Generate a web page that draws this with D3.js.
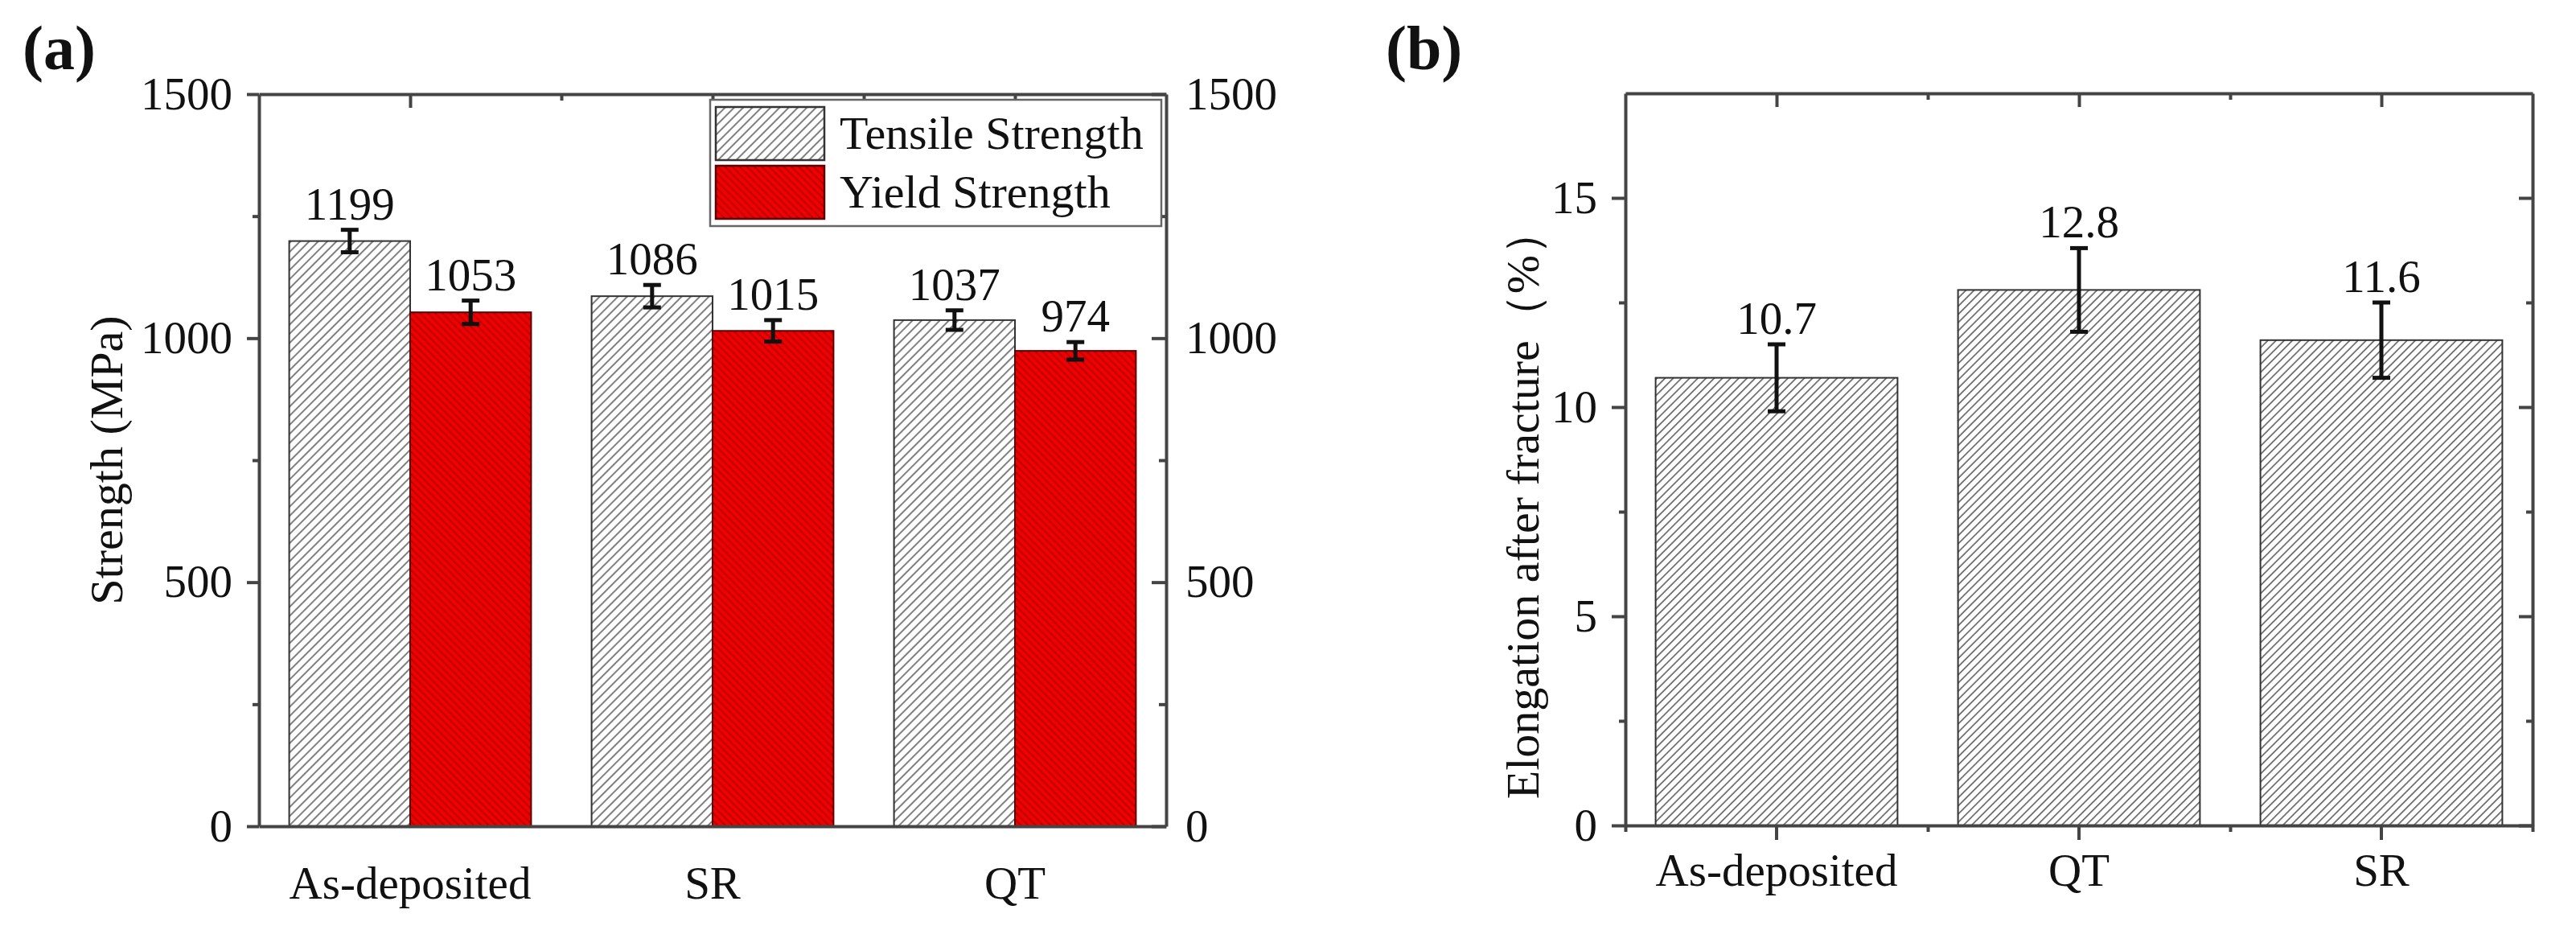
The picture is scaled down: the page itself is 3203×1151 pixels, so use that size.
<!DOCTYPE html>
<html>
<head>
<meta charset="utf-8">
<script src="https://cdnjs.cloudflare.com/ajax/libs/d3/7.8.5/d3.min.js"></script>
<style>
body { margin: 0; background: #fff; }
svg { display: block; }
text { font-family: "Liberation Serif", "Times New Roman", serif; fill: #111; }
</style>
</head>
<body>
<svg id="chart" width="3203" height="1151"></svg>
<script>
// panel (a) data
var categoriesA = ["As-deposited", "SR", "QT"];
var seriesA = ["Tensile Strength", "Yield Strength"];
var tensile = [1199, 1086, 1037];
var tensileErr = [23, 23, 20];
var yieldS = [1053, 1015, 974];
var yieldErr = [24, 22, 18];
var ticksA = [0, 500, 1000, 1500];
var minorA = [250, 750, 1250];

// panel (b) data
var categoriesB = ["As-deposited", "QT", "SR"];
var elongation = [10.7, 12.8, 11.6];
var elongationErr = [0.8, 1.0, 0.9];
var ticksB = [0, 5, 10, 15];
var minorB = [2.5, 7.5, 12.5];

var svg = d3.select('#chart');
var axisColor = '#444';
var fontSize = 57;

// hatch patterns
var defs = svg.append('defs');
function hatch(id, gap, angle, bg, lineColor, lineWidth) {
	var p = defs.append('pattern')
		.attr('id', id)
		.attr('patternUnits', 'userSpaceOnUse')
		.attr('width', gap)
		.attr('height', gap)
		.attr('patternTransform', 'rotate(' + angle + ')');
	p.append('rect').attr('width', gap).attr('height', gap).attr('fill', bg);
	p.append('line')
		.attr('x1', gap / 2).attr('y1', 0)
		.attr('x2', gap / 2).attr('y2', gap)
		.attr('stroke', lineColor)
		.attr('stroke-width', lineWidth);
}
hatch('hatchTensile', 8, 45, '#fff', '#555', 1.5);
hatch('hatchYield', 6.5, -45, '#f00000', '#a80000', 1.5);
hatch('hatchElong', 7.2, 45, '#fff', '#555', 1.5);

function styleAxis(g, showDomain) {
	g.attr('font-size', fontSize).attr('font-family', null);
	g.select('.domain')
		.attr('stroke', axisColor)
		.attr('stroke-width', 4)
		.attr('display', showDomain ? null : 'none');
	g.selectAll('.tick line').attr('stroke', axisColor).attr('stroke-width', 4);
	g.selectAll('.tick text').attr('fill', '#111').style('font-size', fontSize + 'px');
}

function errorBar(g, cx, yTop, yBot) {
	g.append('line').attr('x1', cx).attr('x2', cx).attr('y1', yTop).attr('y2', yBot)
		.attr('stroke', '#111').attr('stroke-width', 5);
	g.append('line').attr('x1', cx - 11).attr('x2', cx + 11).attr('y1', yTop).attr('y2', yTop)
		.attr('stroke', '#111').attr('stroke-width', 5);
	g.append('line').attr('x1', cx - 11).attr('x2', cx + 11).attr('y1', yBot).attr('y2', yBot)
		.attr('stroke', '#111').attr('stroke-width', 5);
}

// ---------------- panel (a) ----------------
var leftA = 322, rightA = 1450, topA = 117, bottomA = 1027;

var xA = d3.scaleBand().domain(categoriesA).range([leftA, rightA]);
var xSub = d3.scaleBand().domain(seriesA).range([0, xA.bandwidth()]).paddingOuter(0.25);
var xIdxA = d3.scaleLinear().domain([-0.5, categoriesA.length - 0.5]).range([leftA, rightA]);
var yA = d3.scaleLinear().domain([0, 1500]).range([bottomA, topA]);

var rowsA = categoriesA.map(function(c, i) {
	return [
		{cat: c, key: seriesA[0], v: tensile[i], e: tensileErr[i], fill: 'url(#hatchTensile)', stroke: '#333'},
		{cat: c, key: seriesA[1], v: yieldS[i], e: yieldErr[i], fill: 'url(#hatchYield)', stroke: '#5a0000'}
	];
});
var barsA = [].concat.apply([], rowsA);

var gA = svg.append('g');

gA.selectAll('rect.bar')
	.data(barsA)
	.enter()
	.append('rect')
	.attr('class', 'bar')
	.attr('x', function(d) { return xA(d.cat) + xSub(d.key); })
	.attr('y', function(d) { return yA(d.v); })
	.attr('width', xSub.bandwidth())
	.attr('height', function(d) { return yA(0) - yA(d.v); })
	.attr('fill', function(d) { return d.fill; })
	.attr('stroke', function(d) { return d.stroke; })
	.attr('stroke-width', 2);

barsA.forEach(function(d) {
	var cx = xA(d.cat) + xSub(d.key) + xSub.bandwidth() / 2;
	errorBar(gA, cx, yA(d.v + d.e), yA(d.v - d.e));
	gA.append('text')
		.attr('x', cx)
		.attr('y', yA(d.v + d.e) - 13)
		.attr('text-anchor', 'middle')
		.style('font-size', fontSize + 'px')
		.text(d.v);
});

// axes (a)
gA.append('g').attr('transform', 'translate(' + leftA + ',0)')
	.call(d3.axisLeft(yA).tickValues(ticksA).tickSize(15).tickSizeOuter(0).tickPadding(18).tickFormat(d3.format('d')))
	.call(styleAxis, true);
gA.append('g').attr('transform', 'translate(' + leftA + ',0)')
	.call(d3.axisLeft(yA).tickValues(minorA).tickSize(8).tickFormat(''))
	.call(styleAxis, false);
gA.append('g').attr('transform', 'translate(' + rightA + ',0)')
	.call(d3.axisRight(yA).tickValues(ticksA).tickSize(-18).tickSizeOuter(0).tickPadding(24).tickFormat(d3.format('d')))
	.call(styleAxis, true);
gA.append('g').attr('transform', 'translate(' + rightA + ',0)')
	.call(d3.axisRight(yA).tickValues(minorA).tickSize(-9).tickFormat(''))
	.call(styleAxis, false);
gA.append('g').attr('transform', 'translate(0,' + topA + ')')
	.call(d3.axisTop(xIdxA).tickValues([0, 1, 2]).tickSize(-17).tickSizeOuter(0).tickFormat(''))
	.call(styleAxis, true);
gA.append('g').attr('transform', 'translate(0,' + topA + ')')
	.call(d3.axisTop(xIdxA).tickValues([0.5, 1.5]).tickSize(-8).tickFormat(''))
	.call(styleAxis, false);
gA.append('g').attr('transform', 'translate(0,' + bottomA + ')')
	.call(d3.axisBottom(xA).tickSize(0).tickSizeOuter(0).tickPadding(50))
	.call(styleAxis, true);

gA.append('text')
	.attr('transform', 'translate(152,572) rotate(-90)')
	.attr('text-anchor', 'middle')
	.style('font-size', '58px')
	.text('Strength (MPa)');

// legend (a)
var legend = gA.append('g');
legend.append('rect')
	.attr('x', 883).attr('y', 124).attr('width', 561).attr('height', 157)
	.attr('fill', '#fff').attr('stroke', '#666').attr('stroke-width', 2.5);
legend.selectAll('rect.swatch')
	.data(seriesA)
	.enter()
	.append('rect')
	.attr('class', 'swatch')
	.attr('x', 890)
	.attr('y', function(d, i) { return 133 + i * 73; })
	.attr('width', 135)
	.attr('height', 66)
	.attr('fill', function(d, i) { return i === 0 ? 'url(#hatchTensile)' : 'url(#hatchYield)'; })
	.attr('stroke', function(d, i) { return i === 0 ? '#333' : '#5a0000'; })
	.attr('stroke-width', 2.5);
legend.selectAll('text')
	.data(seriesA)
	.enter()
	.append('text')
	.attr('x', 1044)
	.attr('y', function(d, i) { return 185 + i * 73; })
	.style('font-size', '58px')
	.text(function(d) { return d; });

svg.append('text')
	.attr('x', 28).attr('y', 86)
	.attr('font-weight', 'bold')
	.style('font-size', '78px')
	.text('(a)');

// ---------------- panel (b) ----------------
var leftB = 2021, rightB = 3149, topB = 116, bottomB = 1026;

var xB = d3.scaleBand().domain(categoriesB).range([leftB, rightB]).paddingInner(0.2).paddingOuter(0.1);
var xIdxB = d3.scaleLinear().domain([-0.5, categoriesB.length - 0.5]).range([leftB, rightB]);
var yB = d3.scaleLinear().domain([0, 17.5]).range([bottomB, topB]);

var rowsB = categoriesB.map(function(c, i) {
	return {cat: c, v: elongation[i], e: elongationErr[i]};
});

var gB = svg.append('g');

gB.selectAll('rect.bar')
	.data(rowsB)
	.enter()
	.append('rect')
	.attr('class', 'bar')
	.attr('x', function(d) { return xB(d.cat); })
	.attr('y', function(d) { return yB(d.v); })
	.attr('width', xB.bandwidth())
	.attr('height', function(d) { return yB(0) - yB(d.v); })
	.attr('fill', 'url(#hatchElong)')
	.attr('stroke', '#333')
	.attr('stroke-width', 2);

rowsB.forEach(function(d) {
	var cx = xB(d.cat) + xB.bandwidth() / 2;
	errorBar(gB, cx, yB(d.v + d.e), yB(d.v - d.e));
	gB.append('text')
		.attr('x', cx)
		.attr('y', yB(d.v + d.e) - 13)
		.attr('text-anchor', 'middle')
		.style('font-size', fontSize + 'px')
		.text(d3.format('.1f')(d.v));
});

// axes (b)
gB.append('g').attr('transform', 'translate(' + leftB + ',0)')
	.call(d3.axisLeft(yB).tickValues(ticksB).tickSize(17).tickSizeOuter(0).tickPadding(18))
	.call(styleAxis, true);
gB.append('g').attr('transform', 'translate(' + leftB + ',0)')
	.call(d3.axisLeft(yB).tickValues(minorB).tickSize(8).tickFormat(''))
	.call(styleAxis, false);
gB.append('g').attr('transform', 'translate(' + rightB + ',0)')
	.call(d3.axisRight(yB).tickValues(ticksB).tickSize(-17).tickSizeOuter(0).tickFormat(''))
	.call(styleAxis, true);
gB.append('g').attr('transform', 'translate(' + rightB + ',0)')
	.call(d3.axisRight(yB).tickValues(minorB).tickSize(-8).tickFormat(''))
	.call(styleAxis, false);
gB.append('g').attr('transform', 'translate(0,' + topB + ')')
	.call(d3.axisTop(xIdxB).tickValues([0, 1, 2]).tickSize(-17).tickSizeOuter(0).tickFormat(''))
	.call(styleAxis, true);
gB.append('g').attr('transform', 'translate(0,' + topB + ')')
	.call(d3.axisTop(xIdxB).tickValues([0.5, 1.5]).tickSize(-8).tickFormat(''))
	.call(styleAxis, false);
gB.append('g').attr('transform', 'translate(0,' + bottomB + ')')
	.call(d3.axisBottom(xIdxB).tickValues([-0.5, 0.5, 1.5, 2.5]).tickSize(8).tickFormat(''))
	.call(styleAxis, false);
gB.append('g').attr('transform', 'translate(0,' + bottomB + ')')
	.call(d3.axisBottom(xB).tickSize(18).tickSizeOuter(0).tickPadding(17))
	.call(styleAxis, true);

gB.append('text')
	.attr('transform', 'translate(1913,626) rotate(-90)')
	.attr('text-anchor', 'middle')
	.style('font-size', '58px')
	.text('Elongation after fracture（%）');

svg.append('text')
	.attr('x', 1723).attr('y', 86)
	.attr('font-weight', 'bold')
	.style('font-size', '78px')
	.text('(b)');
</script>
</body>
</html>
